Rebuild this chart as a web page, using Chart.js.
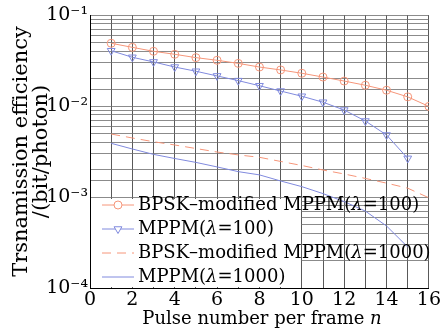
<!DOCTYPE html>
<html>
<head>
<meta charset="utf-8">
<script src="https://cdn.jsdelivr.net/npm/chart.js@4/dist/chart.umd.min.js"></script>
<style>
  html, body { margin: 0; padding: 0; background: #fff; }
  #wrap { width: 442px; height: 336px; }
</style>
</head>
<body>
<div id="wrap"><canvas id="myChart" width="442" height="336"></canvas></div>
<script>
// values
const pulses = [1, 2, 3, 4, 5, 6, 7, 8, 9, 10, 11, 12, 13, 14, 15, 16];
const bpsk100 = [0.0489, 0.0441, 0.0399, 0.0370, 0.0340, 0.0318, 0.0294, 0.0268, 0.0249, 0.0229, 0.0208, 0.0188, 0.0169, 0.0149, 0.0126, 0.0099];
const mppm100 = [0.0405, 0.0343, 0.0305, 0.0268, 0.0241, 0.0214, 0.0190, 0.0167, 0.0146, 0.0128, 0.0110, 0.00903, 0.00684, 0.0048, 0.00266];
const bpsk1000 = [0.00492, 0.00445, 0.00405, 0.00373, 0.00341, 0.00312, 0.0029, 0.00273, 0.00246, 0.00222, 0.00198, 0.00179, 0.0016, 0.00142, 0.00125, 0.00098];
const mppm1000 = [0.00389, 0.00337, 0.00294, 0.00265, 0.0024, 0.00214, 0.0019, 0.00175, 0.0015, 0.0013, 0.00109, 0.00089, 0.0007, 0.00048, 0.000282];
const xTicks = [0, 2, 4, 6, 8, 10, 12, 14, 16];
const legendNames = [
  ["BPSK\u2013modified MPPM(", "\u03bb", "=100)"],
  ["MPPM(", "\u03bb", "=100)"],
  ["BPSK\u2013modified MPPM(", "\u03bb", "=1000)"],
  ["MPPM(", "\u03bb", "=1000)"]
];

const ORANGE = "rgb(246,150,122)";
const BLUE = "rgb(128,138,222)";
const FONT = "'DejaVu Serif', 'Liberation Serif', serif";

const pts = (ys) => ys.map((y, i) => ({ x: pulses[i], y: y }));
const sup = { "-": "\u207b", "1": "\u00b9", "2": "\u00b2", "3": "\u00b3", "4": "\u2074" };

// legend drawn inside the plot, bottom-left, with a white patch behind it
const innerLegend = {
  id: "innerLegend",
  afterDatasetsDraw(chart) {
    const ctx = chart.ctx;
    const area = chart.chartArea;
    ctx.save();
    ctx.fillStyle = "#fff";
    ctx.fillRect(area.left + 1, 199, 300 - area.left, area.bottom - 200);
    const rows = [205, 229, 253, 277];
    chart.data.datasets.forEach((ds, i) => {
      const y = rows[i];
      ctx.strokeStyle = ds.borderColor;
      ctx.lineWidth = 1;
      ctx.setLineDash(ds.borderDash || []);
      ctx.beginPath();
      ctx.moveTo(102, y);
      ctx.lineTo(134, y);
      ctx.stroke();
      ctx.setLineDash([]);
      if (ds.pointRadius > 0) {
        ctx.fillStyle = "#fff";
        Chart.helpers.drawPoint(ctx, {
          pointStyle: ds.pointStyle, rotation: ds.pointRotation || 0,
          radius: ds.pointRadius, borderWidth: 1
        }, 118, y);
      }
      let x = 138;
      ctx.fillStyle = "#000";
      ctx.textBaseline = "middle";
      legendNames[i].forEach((part, k) => {
        ctx.font = (k === 1 ? "italic " : "") + "18px " + FONT;
        ctx.fillText(part, x, y);
        x += ctx.measureText(part).width;
      });
    });
    ctx.restore();
  },
  afterDraw(chart) {
    // x axis title with italic n
    const ctx = chart.ctx;
    ctx.save();
    ctx.fillStyle = "#000";
    ctx.textBaseline = "middle";
    const a = "Pulse number per frame ";
    ctx.font = "18px " + FONT;
    const wa = ctx.measureText(a).width;
    ctx.font = "italic 18px " + FONT;
    const wn = ctx.measureText("n").width;
    const x0 = 262 - (wa + wn) / 2;
    ctx.font = "18px " + FONT;
    ctx.fillText(a, x0, 319);
    ctx.font = "italic 18px " + FONT;
    ctx.fillText("n", x0 + wa, 319);
    ctx.restore();
  }
};

const config = {
  type: "line",
  data: {
    datasets: [
      {
        label: "BPSK-modified MPPM(\u03bb=100)",
        data: pts(bpsk100),
        borderColor: ORANGE, backgroundColor: "rgba(0,0,0,0)",
        borderWidth: 1, pointStyle: "circle", pointRadius: 4,
        pointBorderWidth: 1, pointBackgroundColor: "rgba(0,0,0,0)"
      },
      {
        label: "MPPM(\u03bb=100)",
        data: pts(mppm100),
        borderColor: BLUE, backgroundColor: "rgba(0,0,0,0)",
        borderWidth: 1, pointStyle: "triangle", pointRotation: 180, pointRadius: 4.5,
        pointBorderWidth: 1, pointBackgroundColor: "rgba(0,0,0,0)"
      },
      {
        label: "BPSK-modified MPPM(\u03bb=1000)",
        data: pts(bpsk1000),
        borderColor: ORANGE, backgroundColor: "rgba(0,0,0,0)",
        borderWidth: 1, borderDash: [9, 6], pointRadius: 0
      },
      {
        label: "MPPM(\u03bb=1000)",
        data: pts(mppm1000),
        borderColor: BLUE, backgroundColor: "rgba(0,0,0,0)",
        borderWidth: 1, pointRadius: 0
      }
    ]
  },
  options: {
    responsive: false,
    animation: false,
    layout: { padding: { top: 15, right: 11, left: 0, bottom: 0 } },
    plugins: { legend: { display: false }, tooltip: { enabled: false } },
    scales: {
      x: {
        type: "linear", min: 0, max: 16,
        afterFit(s) { s.height = 48; },
        afterBuildTicks(s) { s.ticks = pulses.concat([0]).sort((a, b) => a - b).map(v => ({ value: v })); },
        ticks: {
          autoSkip: false, maxRotation: 0, padding: 1,
          color: "#000", font: { family: FONT, size: 19 },
          callback: (v) => xTicks.includes(v) ? String(v) : ""
        },
        grid: { color: "rgba(60,60,60,0.85)", lineWidth: 1, drawTicks: false },
        border: { color: "#000", width: 1 }
      },
      y: {
        type: "logarithmic", min: 1e-4, max: 1e-1,
        afterFit(s) { s.width = 90; },
        ticks: {
          autoSkip: false, padding: 2,
          color: "#000", font: { family: FONT, size: 19 },
          callback: (v) => {
            const e = Math.log10(v);
            const r = Math.round(e);
            if (Math.abs(e - r) > 1e-6) return "";
            return "10" + String(r).split("").map(c => sup[c]).join("");
          }
        },
        grid: { color: "rgba(110,110,110,0.8)", lineWidth: 1, drawTicks: false },
        border: { color: "#000", width: 1 },
        title: {
          display: true,
          text: ["Trsnamission efficiency", "/(bit/photon)"],
          color: "#000", font: { family: FONT, size: 21, lineHeight: 0.95 },
          padding: { top: 12, bottom: 0 }
        }
      }
    }
  },
  plugins: [innerLegend]
};

new Chart(document.getElementById("myChart").getContext("2d"), config);
</script>
</body>
</html>
